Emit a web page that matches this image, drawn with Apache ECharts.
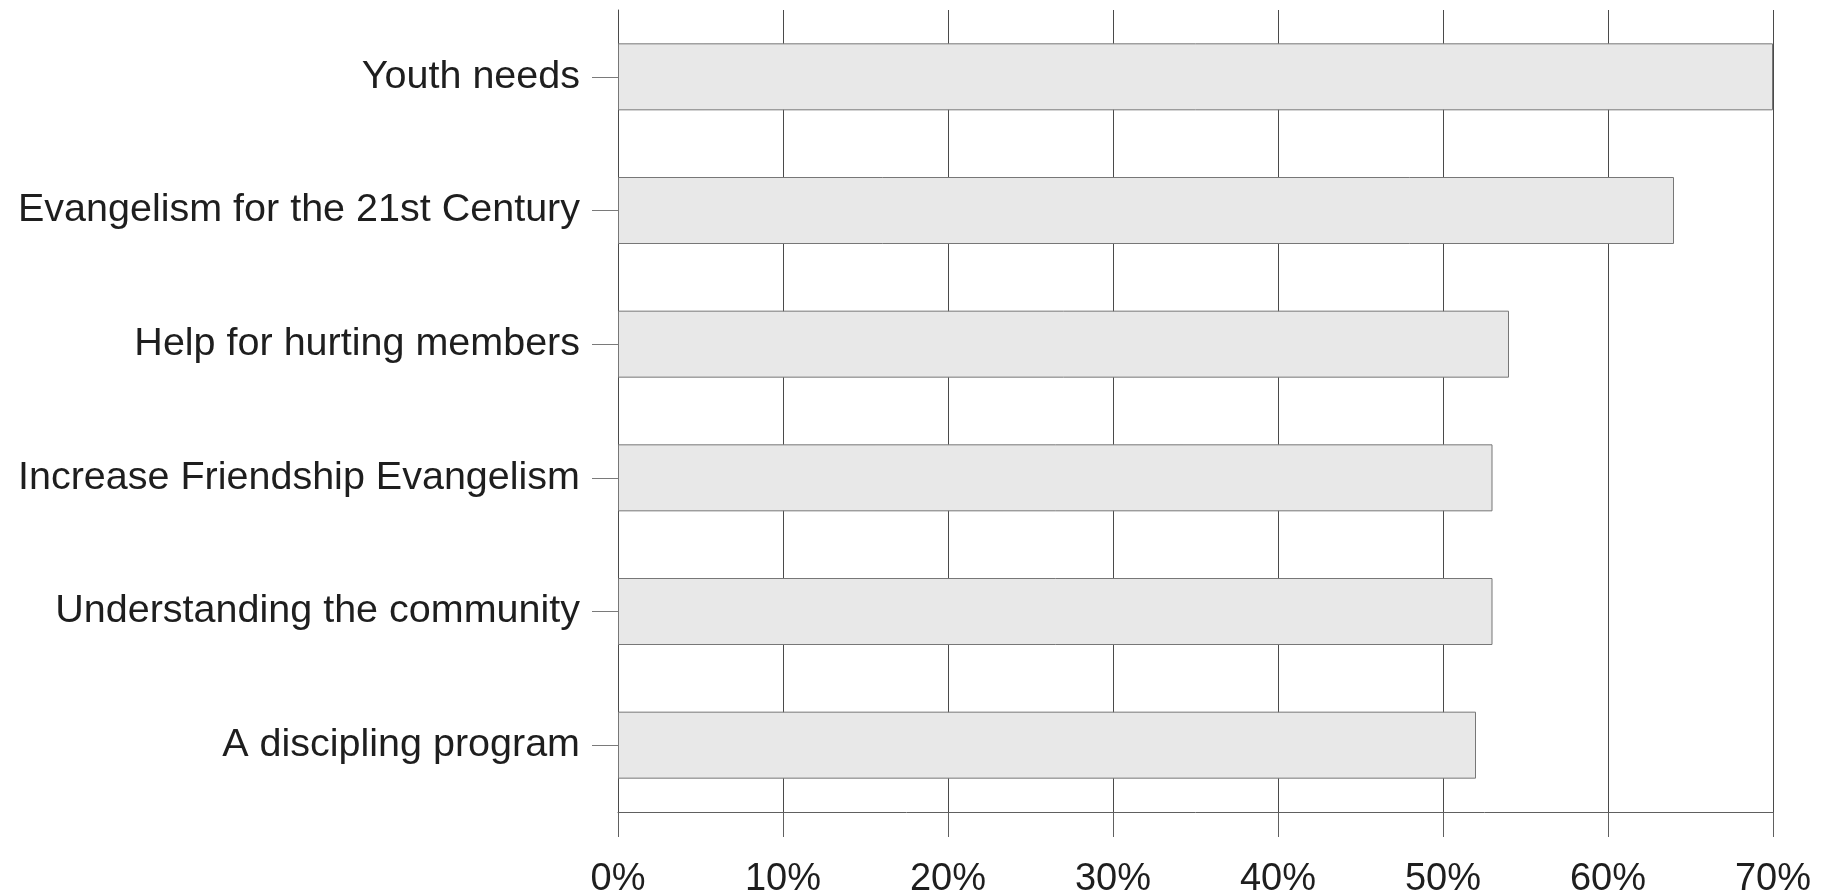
<!DOCTYPE html>
<html>
<head>
<meta charset="utf-8">
<script src="https://cdn.jsdelivr.net/npm/echarts@6/dist/echarts.min.js"></script>
<style>
  html, body { margin: 0; padding: 0; background: #fff; }
  #chart { width: 1830px; height: 893px; }
</style>
</head>
<body>
<div id="chart"></div>
<script>
var categories = ['Youth needs', 'Evangelism for the 21st Century', 'Help for hurting members',
    'Increase Friendship Evangelism', 'Understanding the community', 'A discipling program'];
var percents = [70, 64, 54, 53, 53, 52];
var xTicks = [0, 10, 20, 30, 40, 50, 60, 70];

var myChart = echarts.init(document.getElementById('chart'));

var option = {
    backgroundColor: '#ffffff',
    animation: false,
    grid: {
        left: 618,
        right: 57,
        top: 10,
        bottom: 81,
        containLabel: false,
        outerBoundsMode: 'none'
    },
    xAxis: {
        type: 'value',
        min: xTicks[0],
        max: xTicks[xTicks.length - 1],
        interval: 10,
        axisLine: { show: true, lineStyle: { color: '#606060', width: 1 } },
        axisTick: { show: true, length: 25, lineStyle: { color: '#606060', width: 1 } },
        splitLine: { show: true, lineStyle: { color: '#4a4a4a', width: 1 } },
        axisLabel: {
            margin: 49,
            fontFamily: 'Liberation Sans',
            fontSize: 38,
            color: '#1e1e1e',
            formatter: '{value}%'
        }
    },
    yAxis: {
        type: 'category',
        inverse: true,
        data: categories,
        axisLine: { show: true, lineStyle: { color: '#4a4a4a', width: 1 } },
        axisTick: { show: true, alignWithLabel: true, length: 26, lineStyle: { color: '#7a7a7a', width: 1 } },
        splitLine: { show: false },
        axisLabel: {
            margin: 38,
            padding: [8, 0, 0, 0],
            fontFamily: 'Liberation Sans',
            fontSize: 39.5,
            color: '#1e1e1e'
        }
    },
    series: [{
        type: 'bar',
        data: percents,
        barWidth: 67,
        itemStyle: {
            color: '#e8e8e8',
            borderColor: '#777777',
            borderWidth: 1
        }
    }]
};
myChart.setOption(option);
</script>
</body>
</html>
